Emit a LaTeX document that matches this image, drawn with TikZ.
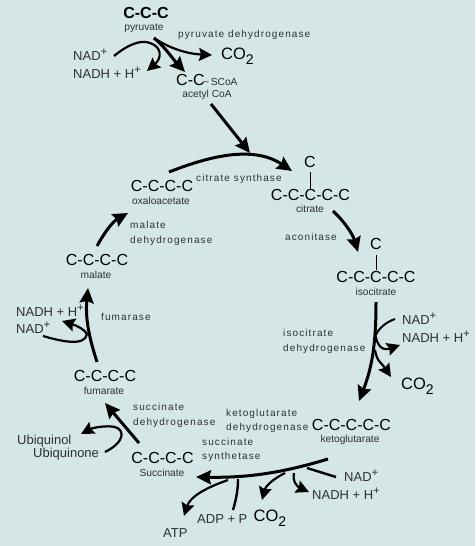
\documentclass[tikz,border=0pt]{standalone}
\usepackage{fontspec}
\setmainfont{Liberation Sans}
\usetikzlibrary{arrows.meta}
\definecolor{bgc}{HTML}{D4E6E6}
\definecolor{txc}{HTML}{303030}
\tikzset{
 x=1pt,y=-1pt,
 big/.style={font=\fontsize{16}{16}\selectfont,inner sep=0pt,text=black},
 sub/.style={font=\fontsize{10.2}{12}\selectfont,inner sep=0pt,text=txc},
 enz/.style={font=\fontsize{10}{14.5}\selectfont\addfontfeatures{LetterSpace=11},inner sep=0pt,text=txc,align=left,anchor=west},
 cof/.style={font=\fontsize{13}{14}\selectfont,inner sep=0pt,text=txc,anchor=west},
 co2/.style={font=\fontsize{16.5}{16}\selectfont,inner sep=0pt,text=black},
 arr/.style={line width=3pt,-{Stealth[length=15pt,width=14pt,inset=2pt]},black},
 arrs/.style={line width=2.2pt,-{Stealth[length=13pt,width=13pt,inset=2pt]},black},
 lin/.style={line width=2.4pt,black},
 bond/.style={line width=0.9pt,black}
}
\newcommand{\cotwo}{CO\raisebox{-0.28em}{\fontsize{14}{14}\selectfont 2}}
\newcommand{\plus}{\raisebox{0.38em}{\fontsize{11.5}{12}\selectfont +}}
\begin{document}
\begin{tikzpicture}
\useasboundingbox (0,0) rectangle (475,546);
\fill[bgc] (0,0) rectangle (475,546);
% molecules
\node[big,font=\fontsize{16}{16}\selectfont\bfseries] (pyr) at (146,13) {C-C-C};
\node[sub] (pyrl) at (144,28) {pyruvate};
\node[big,anchor=west] (acc) at (176,80) {C-C};
\node[sub,anchor=west] (scoa) at (203,82) {\textasciitilde\,SCoA};
\node[sub] (acl) at (207,95) {acetyl CoA};
\node[big] (oaa) at (162,186) {C-C-C-C};
\node[sub] (oaal) at (161,201) {oxaloacetate};
\node[big] (cit) at (310.5,195) {C-C-C-C-C};
\node[big] (citc) at (310,162) {C};
\node[sub] (citl) at (310,209) {citrate};
\node[big] (iso) at (376,277) {C-C-C-C-C};
\node[big] (isoc) at (376,244) {C};
\node[sub] (isol) at (376,292) {isocitrate};
\node[big] (mal) at (97,260) {C-C-C-C};
\node[sub] (mall) at (96,275) {malate};
\node[big] (fum) at (105,376) {C-C-C-C};
\node[sub] (fuml) at (104,391) {fumarate};
\node[big] (suc) at (162.5,458) {C-C-C-C};
\node[sub] (sucl) at (162,473) {Succinate};
\node[big] (keto) at (351.5,425) {C-C-C-C-C};
\node[sub] (ketol) at (350,440) {ketoglutarate};
% enzymes
\node[enz] (e1) at (178,35) {pyruvate dehydrogenase};
\node[enz] (e2) at (196,179) {citrate synthase};
\node[enz] (e3) at (285,237) {aconitase};
\node[enz] (e4) at (283,341.5) {isocitrate\\dehydrogenase};
\node[enz] (e5) at (226,421) {ketoglutarate\\dehydrogenase};
\node[enz] (e6) at (202,450) {succinate\\synthetase};
\node[enz] (e7) at (133,415.5) {succinate\\dehydrogenase};
\node[enz] (e8) at (101,317) {fumarase};
\node[enz] (e9) at (130,233.5) {malate\\dehydrogenase};
% cofactors
\node[cof] (n1) at (73,55) {NAD\plus};
\node[cof] (n1b) at (73,73) {NADH + H\plus};
\node[co2] (c1) at (237.5,56) {\cotwo};
\node[cof] (n2) at (402,319) {NAD\plus};
\node[cof] (n2b) at (402,337) {NADH + H\plus};
\node[co2] (c2) at (417.5,386) {\cotwo};
\node[cof] (n3) at (344,476) {NAD\plus};
\node[cof] (n3b) at (312,494) {NADH + H\plus};
\node[co2] (c3) at (270,518) {\cotwo};
\node[cof] (adp) at (197,519) {ADP + P};
\node[cof] (atp) at (163,533) {ATP};
\node[cof] (uq) at (17,441) {Ubiquinol};
\node[cof] (uqn) at (33,454) {Ubiquinone};
\node[cof] (n4b) at (16,311) {NADH + H\plus};
\node[cof] (n4) at (16,328) {NAD\plus};
% bonds
\coordinate (cb1) at (310,172);
\coordinate (cb2) at (310,189);
\coordinate (ib1) at (376,255);
\coordinate (ib2) at (376,270);
\draw[bond] (cb1) -- (cb2);
\draw[bond] (ib1) -- (ib2);
% coords
\coordinate (a1) at (154,38);
\coordinate (a2) at (185,72);
\coordinate (a3) at (212,55);
\coordinate (b1) at (114,56);
\coordinate (b2) at (147,71);
\coordinate (k1) at (211,104);
\coordinate (k2) at (250,153);
\coordinate (m1) at (169,172);
\coordinate (m2) at (292,171);
\coordinate (p1) at (333,211);
\coordinate (p2) at (358,252);
\coordinate (q1) at (376,302);
\coordinate (q2) at (359,401);
\coordinate (q3) at (395,319);
\coordinate (q4) at (400,345);
\coordinate (q5) at (391,377);
\coordinate (r1) at (328,459);
\coordinate (r2) at (196,477);
\coordinate (r3) at (336,477);
\coordinate (r4) at (309,492);
\coordinate (r5) at (262,500);
\coordinate (r6) at (184,516);
\coordinate (r7) at (233,510);
\coordinate (s1) at (139,443);
\coordinate (s2) at (105,403);
\coordinate (s3) at (105,452);
\coordinate (s4) at (81,434);
\coordinate (t1) at (97,362);
\coordinate (t2) at (88,288);
\coordinate (t3) at (43,336);
\coordinate (t4) at (62,321);
\coordinate (u1) at (97,246);
\coordinate (u2) at (128,213);
% arrows
\draw[arr] (a1) .. controls (165,47) and (172,58) .. (a2);
\draw[arrs] (a1) .. controls (172,50) and (190,54) .. (a3);
\draw[arrs] (b1) .. controls (126,46) and (140,39) .. (150,43) .. controls (162,47) and (162,58) .. (b2);
\draw[arr] (k1) -- (k2);
\draw[arr] (m1) .. controls (200,160) and (250,143) .. (m2);
\draw[arr] (p1) .. controls (345,222) and (353,235) .. (p2);
\draw[arr] (q1) .. controls (376,340) and (373,365) .. (q2);
\draw[lin,line width=2pt] (q3) .. controls (386,322) and (378,329) .. (376,335);
\draw[arrs] (375,333) .. controls (377,347) and (383,351) .. (q4);
\draw[arrs] (375,350) .. controls (377,362) and (381,362) .. (q5);
\draw[arr] (r1) .. controls (285,472) and (250,478) .. (r2);
\draw[lin] (r3) -- (307,468);
\draw[arrs] (294,473) .. controls (292,482) and (298,487) .. (r4);
\draw[arrs] (285,473) .. controls (275,478) and (266,485) .. (r5);
\draw[lin] (238,479) .. controls (238,490) and (236,500) .. (r7);
\draw[arrs] (228,480) .. controls (205,488) and (190,497) .. (r6);
\draw[arr] (s1) -- (s2);
\draw[arrs] (s3) .. controls (125,442) and (125,430) .. (115,427) .. controls (106,425) and (92,428) .. (s4);
\draw[arr] (t1) .. controls (90,340) and (85,320) .. (t2);
\draw[arrs] (t3) .. controls (60,341) and (85,347) .. (87,334) .. controls (85,330) and (78,326) .. (t4);
\draw[arr] (u1) .. controls (103,235) and (112,222) .. (u2);
\end{tikzpicture}
\end{document}
